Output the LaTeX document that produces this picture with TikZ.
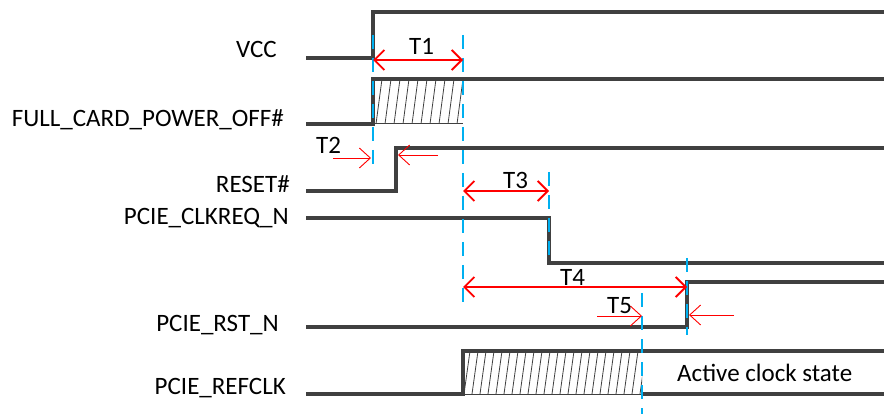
\documentclass[tikz,border=0pt]{standalone}
\usepackage{fontspec}
\setmainfont{Carlito}
\usetikzlibrary{arrows.meta}
\definecolor{sigc}{RGB}{64,64,64}
\definecolor{mkblue}{RGB}{0,176,240}
\definecolor{mkred}{RGB}{255,0,0}
\begin{document}
\begin{tikzpicture}[x=1pt,y=-1pt,
  sig/.style={draw=sigc, line width=3.2pt, line join=miter},
  thinsig/.style={draw=sigc, line width=1pt},
  hatchline/.style={draw=sigc, line width=0.8pt},
  marker/.style={draw=mkblue, line width=2.3pt, dash pattern=on 14pt off 9pt},
  tarrow/.style={draw=mkred, line width=1.9pt, {Straight Barb[length=10pt,width=20pt]}-{Straight Barb[length=10pt,width=20pt]}},
  tharrow/.style={draw=mkred, line width=0.9pt, -{Straight Barb[length=11pt,width=20pt]}},
  lbl/.style={font=\fontsize{25}{30}\selectfont, inner sep=0pt, text=black},
]
\useasboundingbox (0,0) rectangle (884,414);

% signal labels
\node[lbl, anchor=base east] (vcc) at (277,58) {VCC};
\node[lbl, anchor=base east] (fcpo) at (284,127) {FULL\_CARD\_POWER\_OFF\#};
\node[lbl, anchor=base east] (rst) at (290,193) {RESET\#};
\node[lbl, anchor=base east] (clkreq) at (289,225) {PCIE\_CLKREQ\_N};
\node[lbl, anchor=base east] (prst) at (279,331) {PCIE\_RST\_N};
\node[lbl, anchor=base east] (refclk) at (286,394) {PCIE\_REFCLK};

% hatching
\begin{scope}
\clip (373,79) rectangle (463,124);
\foreach \i in {0,...,11} \draw[hatchline] (376+\i*9,124) -- ++(6,-45);
\end{scope}
\begin{scope}
\clip (463,351) rectangle (642,394);
\foreach \i in {0,...,23} \draw[hatchline] (464+\i*8,394) -- ++(6,-43);
\end{scope}
\draw[thinsig] (373,124) -- (463,124);
\draw[thinsig] (463,394) -- (642,394);

% waveforms
\draw[sig] (306,58) -- (373,58) -- (373,12) -- (884,12);
\draw[sig] (306,124) -- (373,124) -- (373,79) -- (884,79);
\draw[sig] (306,191) -- (396,191) -- (396,148) -- (884,148);
\draw[sig] (306,218) -- (549,218) -- (549,263) -- (884,263);
\draw[sig] (306,327) -- (687,327) -- (687,282) -- (884,282);
\draw[sig] (306,394) -- (463,394) -- (463,351) -- (884,351);
\draw[sig] (642,394) -- (884,394);
\node[lbl, anchor=base west] (active) at (677,381) {Active clock state};

% markers
\coordinate (m1a) at (373,35); \coordinate (m1b) at (373,165);
\coordinate (m2a) at (463,35); \coordinate (m2b) at (463,302);
\coordinate (m3a) at (549,172); \coordinate (m3b) at (549,262);
\coordinate (m4a) at (687,258); \coordinate (m4b) at (687,335);
\coordinate (m5a) at (642,293); \coordinate (m5b) at (642,414);
\draw[marker] (m1a) -- (m1b);
\draw[marker] (m2a) -- (m2b);
\draw[marker] (m3a) -- (m3b);
\draw[marker] (m4a) -- (m4b);
\draw[marker] (m5a) -- (m5b);

% timing arrows
\coordinate (t1a) at (373,60); \coordinate (t1b) at (463,60);
\draw[tarrow] (t1a) -- (t1b);
\node[lbl, anchor=base west] (t1) at (409,55) {T1};
\coordinate (t2a) at (333,158); \coordinate (t2b) at (371,158);
\coordinate (t2c) at (438,155); \coordinate (t2d) at (398,155);
\draw[tharrow] (t2a) -- (t2b);
\draw[tharrow] (t2c) -- (t2d);
\node[lbl, anchor=base west] (t2) at (316,154) {T2};
\coordinate (t3a) at (463,191); \coordinate (t3b) at (549,191);
\draw[tarrow] (t3a) -- (t3b);
\node[lbl, anchor=base west] (t3) at (503,189) {T3};
\coordinate (t4a) at (463,287); \coordinate (t4b) at (687,287);
\draw[tarrow] (t4a) -- (t4b);
\node[lbl, anchor=base west] (t4) at (560,286) {T4};
\coordinate (t5a) at (597,316); \coordinate (t5b) at (642,316);
\coordinate (t5c) at (734,315); \coordinate (t5d) at (689,315);
\draw[tharrow] (t5a) -- (t5b);
\draw[tharrow] (t5c) -- (t5d);
\node[lbl, anchor=base west] (t5) at (607,313) {T5};
\end{tikzpicture}
\end{document}
